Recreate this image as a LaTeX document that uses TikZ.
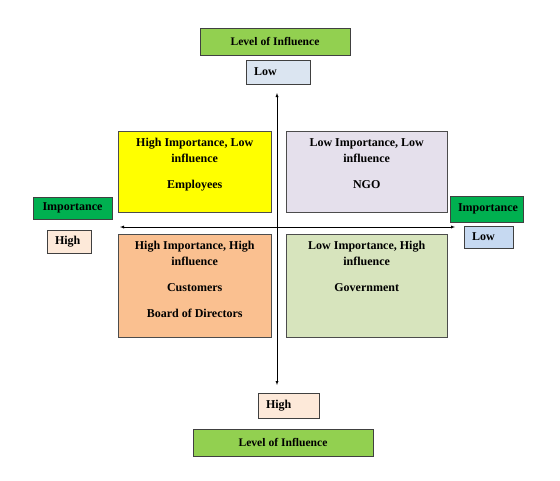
\documentclass[tikz,border=0pt]{standalone}
\usepackage{fontspec}
\setmainfont{Liberation Serif}
\definecolor{lvlgreen}{HTML}{92D050}
\definecolor{impgreen}{HTML}{00B050}
\definecolor{lowblue}{HTML}{DBE5F1}
\definecolor{lowblueb}{HTML}{C6D9F1}
\definecolor{highpeach}{HTML}{FDE9D9}
\definecolor{quadyellow}{HTML}{FFFF00}
\definecolor{quadlilac}{HTML}{E5E0EC}
\definecolor{quadorange}{HTML}{FAC090}
\definecolor{quadgreen}{HTML}{D7E4BD}
\begin{document}
\begin{tikzpicture}[x=1pt,y=-1pt,
    title/.style={draw=black!75,fill=lvlgreen,font=\fontsize{11.6}{13}\selectfont\bfseries,minimum height=27pt,inner sep=0pt},
    tag/.style={draw=black!75,font=\fontsize{12}{13}\selectfont\bfseries,inner xsep=8pt,inner ysep=0pt,align=left},
    quad/.style={draw=black!70,anchor=north west,inner xsep=4pt,inner ysep=7pt,font=\fontsize{12}{16}\selectfont\bfseries}
]
\useasboundingbox (0,0) rectangle (560,480);

% axis labels
\node[title,minimum width=150pt] (lvlTop) at (275,41.5) {Level of Influence};
\node[title,minimum width=180pt] (lvlBot) at (283,442.5) {Level of Influence};
\node[tag,fill=lowblue,text width=48pt,minimum height=24pt] (lowTop) at (278,72) {Low};
\node[tag,fill=highpeach,text width=45pt,minimum height=25pt] (highBot) at (288.5,405.5) {High};
\node[tag,fill=impgreen,text width=63pt,align=center,minimum height=22pt] (impLeft) at (72.5,208) {Importance};
\node[tag,fill=highpeach,text width=28pt,minimum height=23pt] (highLeft) at (69,241.5) {High};
\node[tag,fill=impgreen,text width=57pt,align=center,minimum height=26pt] (impRight) at (486.5,209) {Importance};
\node[tag,fill=lowblueb,text width=33pt,minimum height=22pt] (lowRight) at (488.5,237) {Low};

% quadrants
\node[quad,fill=quadyellow] (hiLo) at (118,131)
  {\parbox[t][67pt][t]{145pt}{\centering High Importance, Low\\ influence\\[10pt] Employees}};
\node[quad,fill=quadlilac] (loLo) at (286,131)
  {\parbox[t][67pt][t]{153pt}{\centering Low Importance, Low\\ influence\\[10pt] NGO}};
\node[quad,fill=quadorange] (hiHi) at (118,234)
  {\parbox[t][89pt][t]{145pt}{\centering High Importance, High\\ influence\\[10pt] Customers\\[10pt] Board of Directors}};
\node[quad,fill=quadgreen] (loHi) at (286,234)
  {\parbox[t][89pt][t]{153pt}{\centering Low Importance, High\\ influence\\[10pt] Government}};

% axes
\coordinate (vt) at (277,93);
\coordinate (vb) at (277,385);
\coordinate (hl) at (120,227);
\coordinate (hr) at (455,227);
\draw[latex-latex] (vt) -- (vb);
\draw[latex-latex] (hl) -- (hr);
\end{tikzpicture}
\end{document}
